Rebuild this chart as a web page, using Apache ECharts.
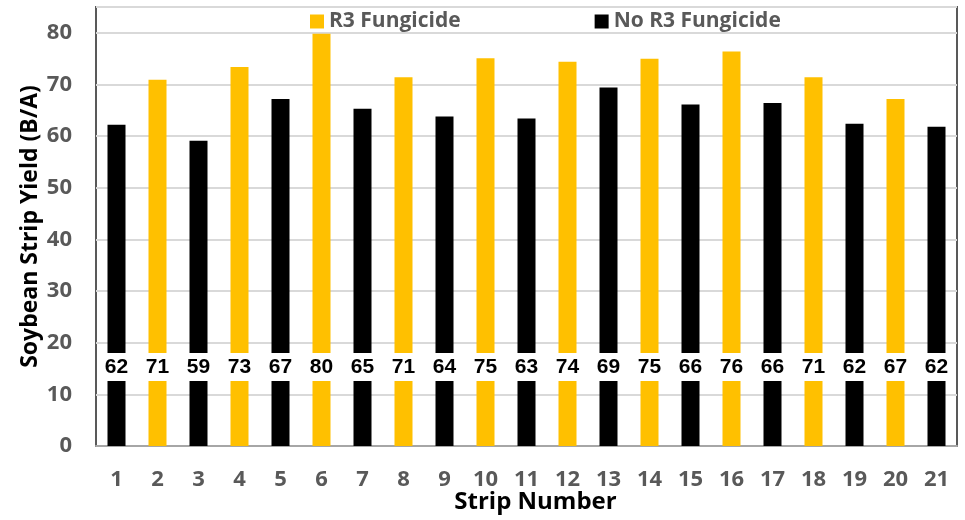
<!DOCTYPE html>
<html><head><meta charset="utf-8">
<script src="https://cdn.jsdelivr.net/npm/echarts@6/dist/echarts.min.js"></script>
<style>html,body{margin:0;padding:0;background:#fff}#c{width:965px;height:520px}</style>
</head><body><div id="c"></div>
<script>
const strips = ['1','2','3','4','5','6','7','8','9','10','11','12','13','14','15','16','17','18','19','20','21'];
const treatment = ['N','R','N','R','N','R','N','R','N','R','N','R','N','R','N','R','N','R','N','R','N'];
const yields = [62.2,70.9,59.1,73.4,67.2,79.8,65.3,71.4,63.8,75.1,63.4,74.4,69.4,75.0,66.1,76.4,66.4,71.4,62.4,67.2,61.8];
const yTicks = [0,10,20,30,40,50,60,70,80];
const seriesNames = ['R3 Fungicide','No R3 Fungicide'];

const r3Data = yields.map((v,i)=>treatment[i]==='R'?v:null);
const noData = yields.map((v,i)=>treatment[i]==='N'?v:null);
const F = '"Open Sans", Lato, sans-serif';
const labelCfg = {
  show:true, position:'insideBottom', distance:65,
  formatter:p=>Math.round(p.value),
  color:'#000', fontFamily:'"Liberation Sans", Arial, sans-serif', fontWeight:'bold', fontSize:21,
  backgroundColor:'#fff', padding:[4,3,3,3], lineHeight:21
};
const chart = echarts.init(document.getElementById('c'));
chart.setOption({
  animation:false,
  grid:{left:96,right:8,top:7,bottom:74,show:true,borderColor:'#595959',borderWidth:2,
    containLabel:false,outerBoundsMode:'none'},
  legend:{top:6,left:305,itemWidth:14,itemHeight:14,itemGap:134,icon:'rect',
    textStyle:{color:'#595959',fontFamily:F,fontWeight:'bold',fontSize:21,padding:[0,0,0,0]},
    data:seriesNames},
  xAxis:{type:'category',data:strips,
    axisLine:{lineStyle:{color:'#a6a6a6',width:2}},axisTick:{show:false},
    axisLabel:{color:'#595959',fontFamily:F,fontWeight:'bold',fontSize:22,margin:23},
    name:'Strip Number',nameLocation:'middle',nameGap:44,nameMoveOverlap:false,
    nameTextStyle:{color:'#000',fontFamily:F,fontWeight:'bold',fontSize:24,padding:[0,0,0,18]}},
  yAxis:{type:'value',min:0,max:85,interval:10,
    axisLine:{show:false},axisTick:{show:false},
    splitLine:{lineStyle:{color:'#d9d9d9',width:2}},
    axisLabel:{color:'#595959',fontFamily:F,fontWeight:'bold',fontSize:22,margin:24,
      formatter:v=>yTicks.includes(v)?String(v):''},
    name:'Soybean Strip Yield (B/A)',nameLocation:'middle',nameGap:54,nameRotate:90,nameMoveOverlap:false,
    nameTextStyle:{color:'#000',fontFamily:F,fontWeight:'bold',fontSize:23}},
  series:[
    {name:seriesNames[0],type:'bar',data:r3Data,barWidth:18,barGap:'-100%',
      itemStyle:{color:'#FFC000'},label:labelCfg},
    {name:seriesNames[1],type:'bar',data:noData,barWidth:18,barGap:'-100%',
      itemStyle:{color:'#000000'},label:labelCfg}
  ]
});
</script></body></html>
